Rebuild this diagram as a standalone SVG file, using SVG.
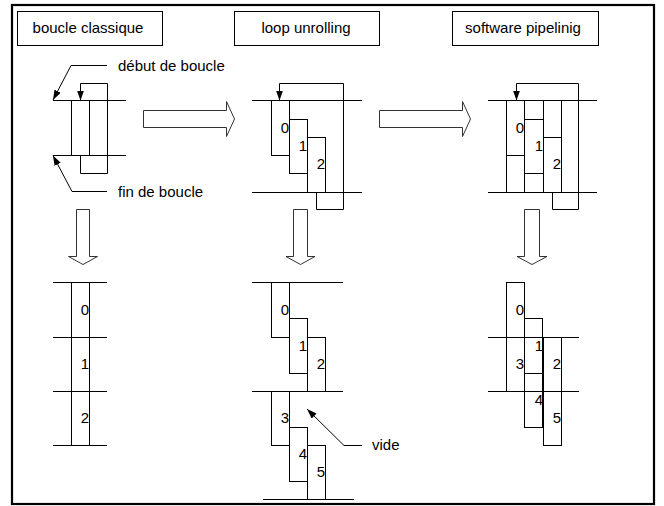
<svg xmlns="http://www.w3.org/2000/svg" width="664" height="506" viewBox="0 0 664 506">
<defs>
<marker id="ah" viewBox="0 0 10 7" refX="10" refY="3.5" markerWidth="10" markerHeight="7" markerUnits="userSpaceOnUse" orient="auto">
<path d="M0,0 L10,3.5 L0,7 z" fill="#000"/>
</marker>
<style>
text{font-family:"Liberation Sans",Arial,sans-serif;font-size:15px;fill:#000}
.t{text-anchor:middle}
.n{text-anchor:end}
.l{fill:none;stroke:#000;stroke-width:1}
.b{fill:#fff;stroke:#000;stroke-width:1}
.h{fill:#fff;stroke:#333;stroke-width:1}
.p{fill:none;stroke:#000;stroke-width:1;marker-end:url(#ah)}
</style>
</defs>
<rect x="12" y="5" width="642" height="499" fill="#fff" stroke="#000" stroke-width="2.2"/>

<g id="title-classique"><rect class="b" x="17.5" y="11.5" width="145" height="34"/><text class="t" x="88" y="33">boucle classique</text></g>
<g id="title-unrolling"><rect class="b" x="234.5" y="11.5" width="145" height="34"/><text class="t" x="306" y="33">loop unrolling</text></g>
<g id="title-pipelining"><rect class="b" x="452.5" y="11.5" width="146" height="34"/><text class="t" x="523" y="33">software pipelinig</text></g>

<g id="classique-top">
<path class="l" d="M53,100.5H126M53,155.5H126"/>
<rect class="l" x="71.5" y="100.5" width="18" height="55"/>
<polyline class="p" points="80.5,155.5 80.5,173.5 107.5,173.5 107.5,83.5 80.5,83.5 80.5,100.5"/>
<text x="118" y="71">début de boucle</text>
<text x="118" y="197">fin de boucle</text>
</g>

<g id="unrolling-top">
<path class="l" d="M252,100.5H362M252,192.5H362"/>
<rect class="l" x="271.5" y="100.5" width="18" height="55"/>
<rect class="l" x="289.5" y="119.5" width="18" height="54"/>
<rect class="l" x="307.5" y="137.5" width="18" height="55"/>
<text class="n" x="289" y="133">0</text>
<text class="n" x="307" y="151">1</text>
<text class="n" x="325" y="169">2</text>
<polyline class="p" points="316.5,192.5 316.5,209.5 343.5,209.5 343.5,83.5 279.5,83.5 279.5,100.5"/>
</g>

<g id="pipelining-top">
<path class="l" d="M488,100.5H597M488,192.5H597"/>
<path class="l" d="M506.5,100.5V192.5M524.5,100.5V192.5M543.5,100.5V192.5M561.5,100.5V192.5"/>
<path class="l" d="M506.5,155.5H524.5M524.5,119.5H543.5M524.5,173.5H543.5M543.5,137.5H561.5"/>
<text class="n" x="524" y="133">0</text>
<text class="n" x="543" y="151">1</text>
<text class="n" x="561" y="169">2</text>
<polyline class="p" points="552.5,192.5 552.5,209.5 578.5,209.5 578.5,83.5 516.5,83.5 516.5,100.5"/>
</g>

<g id="classique-bottom">
<path class="l" d="M53,282.5H107M53,337.5H107M53,391.5H107M53,445.5H107"/>
<rect class="l" x="71.5" y="282.5" width="18" height="163"/>
<text class="n" x="89" y="315">0</text>
<text class="n" x="89" y="369">1</text>
<text class="n" x="89" y="423">2</text>
</g>

<g id="unrolling-bottom">
<path class="l" d="M252,282.5H343M252,391.5H343M263,499.5H354"/>
<rect class="l" x="271.5" y="282.5" width="18" height="55"/>
<rect class="l" x="289.5" y="318.5" width="18" height="55"/>
<rect class="l" x="307.5" y="337.5" width="18" height="54"/>
<rect class="l" x="271.5" y="391.5" width="18" height="54"/>
<rect class="l" x="289.5" y="427.5" width="18" height="54"/>
<rect class="l" x="307.5" y="445.5" width="18" height="54"/>
<text class="n" x="289" y="315">0</text>
<text class="n" x="307" y="351">1</text>
<text class="n" x="325" y="369">2</text>
<text class="n" x="289" y="423">3</text>
<text class="n" x="307" y="459">4</text>
<text class="n" x="325" y="477">5</text>
<text x="372" y="450">vide</text>
</g>

<g id="pipelining-bottom">
<path class="l" d="M488,337.5H579M488,391.5H579"/>
<rect class="l" x="506.5" y="282.5" width="18" height="55"/>
<rect class="l" x="524.5" y="318.5" width="18" height="55"/>
<rect class="l" x="543.5" y="337.5" width="18" height="54"/>
<rect class="l" x="506.5" y="337.5" width="18" height="54"/>
<rect class="l" x="524.5" y="373.5" width="18" height="54"/>
<rect class="l" x="543.5" y="391.5" width="18" height="54"/>
<text class="n" x="524" y="315">0</text>
<text class="n" x="543" y="351">1</text>
<text class="n" x="561" y="369">2</text>
<text class="n" x="524" y="369">3</text>
<text class="n" x="543" y="405">4</text>
<text class="n" x="561" y="423">5</text>
</g>

<g id="connectors">
<polygon class="h" points="143.5,110.5 226.5,110.5 226.5,101.5 234.5,119 226.5,136.5 226.5,127.5 143.5,127.5"/>
<polygon class="h" points="379.5,110.5 462.5,110.5 462.5,101.5 470.5,119 462.5,136.5 462.5,127.5 379.5,127.5"/>
<polygon class="h" points="76.5,209.5 89.5,209.5 89.5,256.5 97.5,256.5 83,264.5 68.5,256.5 76.5,256.5"/>
<polygon class="h" points="293.5,209.5 307.5,209.5 307.5,256.5 315,256.5 300.5,264.5 286,256.5 293.5,256.5"/>
<polygon class="h" points="524.5,209.5 539.5,209.5 539.5,256.5 547,256.5 532,264.5 517,256.5 524.5,256.5"/>
<polyline class="p" points="107,65.5 71,65.5 53,100"/>
<polyline class="p" points="107,191.5 72,191.5 53,155.5"/>
<polyline class="p" points="362,445.5 344,445.5 307,409"/>
</g>
</svg>
